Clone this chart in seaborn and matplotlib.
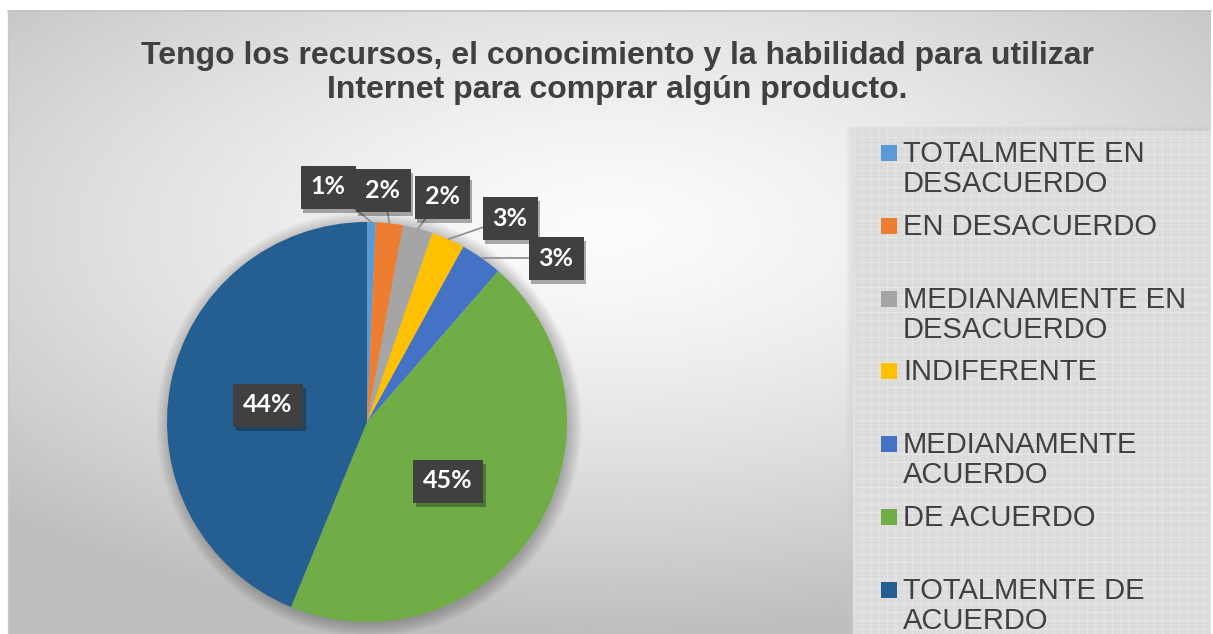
import textwrap
import numpy as np
import seaborn as sns
import matplotlib.pyplot as plt
from matplotlib.patches import Rectangle, Circle
from matplotlib import patheffects as pe

# Data
TITLE = ("Tengo los recursos, el conocimiento y la habilidad para utilizar\n"
         "Internet para comprar algún producto.")
CATEGORIES = [
    "TOTALMENTE EN DESACUERDO",
    "EN DESACUERDO",
    "MEDIANAMENTE EN DESACUERDO",
    "INDIFERENTE",
    "MEDIANAMENTE ACUERDO",
    "DE ACUERDO",
    "TOTALMENTE DE ACUERDO",
]
SHARE = [0.7, 2.2, 2.4, 2.7, 3.4, 44.8, 43.8]
COLORS = ["#5B9BD5", "#ED7D31", "#A5A5A5", "#FFC000", "#4472C4", "#70AD47", "#255E91"]

# Label box positions (pie radius = 1)
LABEL_XY = [(-0.195, 1.175), (0.08, 1.16), (0.375, 1.125), (0.715, 1.02),
            (0.945, 0.82), (0.405, -0.295), (-0.495, 0.085)]

W, H, DPI = 1213, 634, 100

sns.set_theme(style="white")
plt.rcParams["font.family"] = ["Liberation Sans", "DejaVu Sans"]

fig = plt.figure(figsize=(W / DPI, H / DPI), dpi=DPI)
fig.patch.set_facecolor("white")

# Background with radial gradient
bg = fig.add_axes([8 / W, 0, (1211 - 8) / W, (H - 11) / H])
ny, nx = 300, 600
yy, xx = np.mgrid[0:1:ny * 1j, 0:1:nx * 1j]
d = np.sqrt(((xx - 0.5) / 1.0) ** 2 + ((yy - 0.35) / 0.9) ** 2)
val = 0.985 - 0.24 * np.clip(d / 0.72, 0, 1) ** 1.4
bg.imshow(val, cmap="gray", vmin=0, vmax=1, aspect="auto",
          extent=[0, 1, 1, 0], interpolation="bilinear")
bg.set_xlim(0, 1)
bg.set_ylim(1, 0)
bg.axis("off")
fig.add_artist(plt.Line2D([8 / W, 1211 / W], [(H - 11) / H] * 2,
                          color="#bfbfbf", lw=1.2))
fig.add_artist(plt.Line2D([8 / W] * 2, [0, (H - 11) / H],
                          color="#c8c8c8", lw=1.0))

# Legend panel, soft left edge then hatched fill
for k in range(6):
    fig.add_artist(Rectangle(((846 + k) / W, 0), (1211 - 846 - k) / W, (H - 128 + k * 0.4) / H,
                             transform=fig.transFigure, facecolor="#cfcfcf",
                             alpha=0.08, lw=0, zorder=1))
plt.rcParams["hatch.linewidth"] = 0.6
panel = Rectangle((853 / W, 0), (1211 - 853) / W, (H - 131) / H,
                  transform=fig.transFigure, facecolor="#dcdcdc",
                  edgecolor="#e8e8e8", hatch="++", lw=0, zorder=1)
fig.add_artist(panel)

# Title
fig.text(617 / W, 1 - 73 / H, TITLE, ha="center", va="center",
         fontsize=23, fontweight="bold", color="#404040", linespacing=1.2)

# Pie
cx, cy, r = 367, 422, 200
ax = fig.add_axes([(cx - r) / W, (H - cy - r) / H, 2 * r / W, 2 * r / H])
for k in range(10):
    ax.add_patch(Circle((0.01, -0.01), 1 + 0.007 * k, color="black",
                        alpha=0.025, lw=0, zorder=0, clip_on=False))
wedges, _, autotexts = ax.pie(
    SHARE, colors=COLORS, startangle=90, counterclock=False,
    autopct="%.0f%%", radius=1, wedgeprops=dict(linewidth=0),
    textprops=dict(color="white", fontsize=18, fontweight="bold",
                   family=["Lato", "DejaVu Sans"]))
ax.set_xlim(-1, 1)
ax.set_ylim(-1, 1)
ax.set_aspect("equal")
ax.axis("off")

for i, (w, t) in enumerate(zip(wedges, autotexts)):
    lx, ly = LABEL_XY[i]
    t.set_position((lx, ly))
    t.set_ha("center")
    t.set_va("center")
    t.set_zorder(6)
    t.set_clip_on(False)
    t.set_bbox(dict(boxstyle="square,pad=0.4", facecolor="#404040",
                    edgecolor="none"))
    t.get_bbox_patch().set_path_effects(
        [pe.SimplePatchShadow(offset=(2, -3), alpha=0.35), pe.Normal()])
    if SHARE[i] < 10:
        mid = np.deg2rad((w.theta1 + w.theta2) / 2)
        ex, ey = np.cos(mid), np.sin(mid)
        ax.plot([ex, lx], [ey, ly], color="#8c8c8c", lw=1.2, zorder=5,
                clip_on=False)

# Legend drawn by hand to keep Excel's slot spacing
for i, cat in enumerate(CATEGORIES):
    y = 153 + i * 72.8
    fig.add_artist(Rectangle((881 / W, 1 - (y + 8) / H), 16 / W, 16 / H,
                             transform=fig.transFigure, facecolor=COLORS[i],
                             lw=0, zorder=3))
    fig.text(903 / W, 1 - (y - 13) / H, textwrap.fill(cat, 15),
             ha="left", va="top", fontsize=21, color="#404040",
             linespacing=1.1, zorder=3)

fig.savefig("out.png", dpi=DPI)
